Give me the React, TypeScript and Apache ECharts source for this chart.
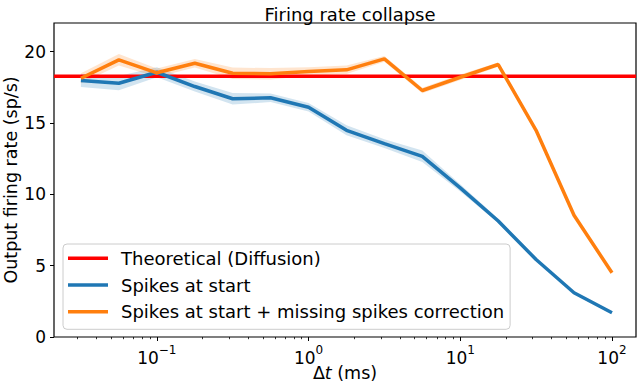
import React, { useEffect, useRef } from "react";
import * as echarts from "echarts";

// ---- data ----
const dt = [0.0316, 0.0562, 0.1, 0.178, 0.316, 0.562, 1, 1.78, 3.16, 5.62, 10, 17.8, 31.6, 56.2, 100];
const blueMean = [17.97, 17.78, 18.55, 17.55, 16.69, 16.76, 16.1, 14.48, 13.55, 12.66, 10.45, 8.13, 5.43, 3.1, 1.7];
const blueStd = [0.45, 0.5, 0.35, 0.35, 0.4, 0.3, 0.3, 0.35, 0.3, 0.4, 0.25, 0.15, 0.1, 0.08, 0.05];
const orangeMean = [18.13, 19.42, 18.51, 19.18, 18.48, 18.44, 18.6, 18.72, 19.49, 17.27, 18.2, 19.09, 14.48, 8.53, 4.5];
const orangeStd = [0.35, 0.4, 0.3, 0.3, 0.4, 0.4, 0.3, 0.3, 0.2, 0.2, 0.2, 0.15, 0.1, 0.08, 0.05];
const theoretical = 18.27;

const seriesNames = [
  "Theoretical (Diffusion)",
  "Spikes at start",
  "Spikes at start + missing spikes correction",
];

const xMin = 0.021;
const xMax = 144;
const yMin = 0;
const yMax = 22;
const xMajorTicks = [0.1, 1, 10, 100];
const xMinorTicks = [
  0.03, 0.04, 0.05, 0.06, 0.07, 0.08, 0.09,
  0.2, 0.3, 0.4, 0.5, 0.6, 0.7, 0.8, 0.9,
  2, 3, 4, 5, 6, 7, 8, 9,
  20, 30, 40, 50, 60, 70, 80, 90,
];
const yTicks = [0, 5, 10, 15, 20];

const FONT = "DejaVu Sans";
const RED = "#ff0000";
const BLUE = "#1f77b4";
const ORANGE = "#ff7f0e";

function bandSeries(mean: number[], std: number[], color: string, key: string) {
  const rows = dt.map((x, i) => [x, mean[i] - std[i], mean[i] + std[i]]);
  return {
    name: key + "_band",
    type: "custom",
    silent: true,
    data: rows,
    encode: { x: 0, y: [1, 2] },
    renderItem: (params: any, api: any) => {
      if (params.dataIndex !== 0) return null;
      const upper = rows.map((r) => api.coord([r[0], r[2]]));
      const lower = rows.map((r) => api.coord([r[0], r[1]])).reverse();
      return {
        type: "polygon",
        shape: { points: upper.concat(lower) },
        style: { fill: color, opacity: 0.2 },
        silent: true,
      };
    },
  };
}

export default function App() {
  const ref = useRef<HTMLDivElement>(null);
  useEffect(() => {
    if (!ref.current) return;
    const chart = echarts.init(ref.current, null, { renderer: "svg" });
    const supFmt = (v: number) => {
      const e = Math.round(Math.log10(v));
      const s = e < 0 ? "\u2212" + String(-e) : String(e);
      return "{b|10}{s|" + s + "}";
    };
    chart.setOption({
      animation: false,
      backgroundColor: "#ffffff",
      textStyle: { fontFamily: FONT },
      title: {
        text: "Firing rate collapse",
        left: 345,
        top: 0,
        textAlign: "center",
        textStyle: { fontFamily: FONT, fontSize: 18, fontWeight: "normal", color: "#000" },
      },
      grid: {
        left: 54,
        right: 4,
        top: 23,
        bottom: 49,
        containLabel: false,
        outerBoundsMode: "none",
        show: true,
        borderColor: "#000",
        borderWidth: 1.2,
        backgroundColor: "transparent",
      },
      legend: {
        data: seriesNames,
        orient: "vertical",
        left: 63,
        top: 244,
        padding: [4.3, 6, 7.6, 5],
        itemWidth: 40,
        itemHeight: 3.5,
        itemGap: 6.7,
        icon: "rect",
        backgroundColor: "rgba(255,255,255,0.8)",
        borderColor: "#cccccc",
        borderWidth: 1,
        borderRadius: 4,
        textStyle: { fontFamily: FONT, fontSize: 18, color: "#000", lineHeight: 20, padding: [0, 0, 0, 8] },
      },
      xAxis: [
        {
          type: "log",
          logBase: 10,
          min: xMin,
          max: xMax,
          position: "bottom",
          name: "{d|\u0394}{i|t}{d| (ms)}",
          nameLocation: "middle",
          nameGap: 27,
          nameMoveOverlap: false,
          nameTextStyle: {
            rich: {
              d: { fontFamily: FONT, fontSize: 17.5, color: "#000" },
              i: { fontFamily: FONT, fontSize: 17.5, color: "#000", fontStyle: "italic" },
            },
          },
          axisLine: { show: false },
          splitLine: { show: false },
          axisTick: { show: true, length: 4, customValues: xMajorTicks, lineStyle: { color: "#000", width: 1 } },
          axisLabel: {
            customValues: xMajorTicks,
            margin: 7,
            formatter: supFmt,
            rich: {
              b: { fontFamily: FONT, fontSize: 17, color: "#000", lineHeight: 22, verticalAlign: "bottom" },
              s: { fontFamily: FONT, fontSize: 12, color: "#000", lineHeight: 12, verticalAlign: "top" },
            },
          },
        },
        {
          type: "log",
          logBase: 10,
          min: xMin,
          max: xMax,
          position: "bottom",
          axisLine: { show: false },
          splitLine: { show: false },
          axisLabel: { show: false },
          axisTick: { show: true, length: 2.2, customValues: xMinorTicks, lineStyle: { color: "#000", width: 0.8 } },
        },
      ],
      yAxis: {
        type: "value",
        min: yMin,
        max: yMax,
        interval: 5,
        name: "Output firing rate (sp/s)",
        nameLocation: "middle",
        nameGap: 34,
        nameMoveOverlap: false,
        nameTextStyle: { fontFamily: FONT, fontSize: 17.5, color: "#000" },
        axisLine: { show: false },
        splitLine: { show: false },
        axisTick: { show: true, length: 4, customValues: yTicks, lineStyle: { color: "#000", width: 1 } },
        axisLabel: { customValues: yTicks, margin: 8, fontFamily: FONT, fontSize: 17, color: "#000" },
      },
      series: [
        bandSeries(blueMean, blueStd, BLUE, "blue"),
        bandSeries(orangeMean, orangeStd, ORANGE, "orange"),
        {
          name: seriesNames[0],
          type: "line",
          color: RED,
          data: [[xMin, theoretical], [xMax, theoretical]],
          symbol: "none",
          lineStyle: { color: RED, width: 3.5 },
        },
        {
          name: seriesNames[1],
          type: "line",
          color: BLUE,
          data: dt.map((x, i) => [x, blueMean[i]]),
          symbol: "none",
          lineStyle: { color: BLUE, width: 3.5 },
        },
        {
          name: seriesNames[2],
          type: "line",
          color: ORANGE,
          data: dt.map((x, i) => [x, orangeMean[i]]),
          symbol: "none",
          lineStyle: { color: ORANGE, width: 3.5 },
        },
      ],
    });
    return () => chart.dispose();
  }, []);
  return (
    <div
      ref={ref}
      style={{ position: "fixed", left: 0, top: 0, width: 640, height: 386, background: "#fff" }}
    />
  );
}
